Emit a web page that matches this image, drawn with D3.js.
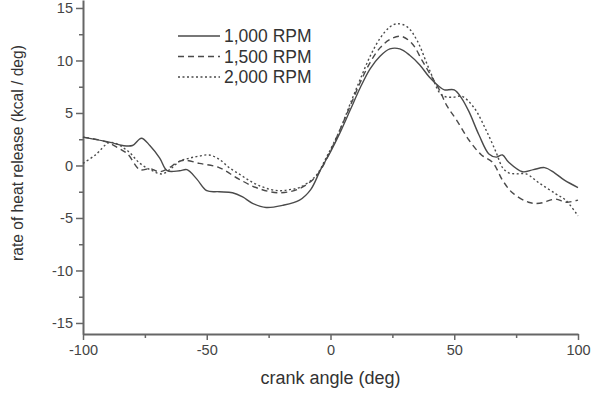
<!DOCTYPE html>
<html lang="en">
<head>
  <meta charset="UTF-8">
  <title>Rate of heat release</title>
  <script src="https://d3js.org/d3.v7.min.js"></script>
  <style>
    body {
      margin: 0;
      padding: 0;
      background: #fff;
      font-family: "Liberation Sans", Arial, sans-serif;
    }
    .axis path, .axis line {
      stroke: #666;
    }
    .axis path {
      stroke-width: 2;
    }
    .axis line {
      stroke-width: 1.5;
    }
    .axis text {
      fill: #444;
      font-size: 14.5px;
      font-family: "Liberation Sans", Arial, sans-serif;
    }
  </style>
</head>
<body>
  <div id="chart"></div>

  <script>
    // 1,000 RPM (solid)
    const angle1000 = [-100, -89, -84, -80, -76.4, -73, -69, -66, -61, -58, -54, -50, -45, -39.6, -35.5, -31.5, -26, -19.4, -12.5, -8, -4, 0, 4, 8, 12, 16, 20, 24, 28, 32, 36, 40, 44, 46, 50, 53, 56, 60, 64, 67, 69.5, 72, 77.6, 82, 86.5, 90.5, 94.5, 100];
    const heat1000 = [2.7, 2.2, 1.9, 1.9, 2.6, 1.9, 0.7, -0.5, -0.5, -0.4, -1.3, -2.4, -2.5, -2.6, -3.0, -3.6, -4.0, -3.8, -3.3, -2.3, -0.4, 1.3, 3.2, 5.3, 7.4, 9.2, 10.4, 11.1, 11.1, 10.5, 9.6, 8.4, 7.5, 7.2, 7.2, 6.4, 5.1, 2.9, 1.1, 0.8, 1.0, 0.3, -0.6, -0.4, -0.2, -0.7, -1.4, -2.1];

    // 1,500 RPM (dashed)
    const angle1500 = [-100, -95, -90, -86, -82, -77, -73, -69, -65, -62, -59, -53, -45, -37, -29, -20.6, -12.5, -5.7, 0, 4, 8, 12, 16, 20, 24, 28.5, 33, 37, 40, 44, 47, 51, 56, 61, 65.5, 69.5, 73.5, 80, 84.5, 91, 95, 100];
    const heat1500 = [2.7, 2.5, 2.2, 1.7, 1.1, -0.4, -0.3, -0.6, -0.2, 0.3, 0.5, 0.2, -0.2, -1.3, -2.2, -2.6, -2.2, -1.0, 1.4, 3.5, 5.7, 7.9, 9.8, 11.2, 12.0, 12.3, 11.6, 10.0, 8.8, 7.2, 5.7, 4.3, 2.4, 1.0, 0.3, -1.4, -2.6, -3.5, -3.6, -3.2, -3.5, -3.3];

    // 2,000 RPM (dotted)
    const angle2000 = [-100, -95, -89, -82, -77, -72, -68, -64, -61, -57, -53, -49, -45, -41, -37, -33, -29, -24, -20, -16.6, -12.5, -6, -1.6, 4, 8, 12, 16, 20, 24, 27, 31, 35, 40, 45, 49.5, 53, 58, 63, 67, 69.5, 72, 75, 79, 84.5, 91, 95, 100];
    const heat2000 = [0.2, 1.0, 2.2, 1.4, 0.2, -0.5, -0.8, -0.2, 0.4, 0.7, 0.9, 1.0, 0.6, -0.2, -0.8, -1.4, -1.9, -2.3, -2.4, -2.3, -2.1, -1.0, 0.8, 3.5, 5.9, 8.2, 10.4, 12.1, 13.2, 13.5, 13.2, 11.9, 9.1, 6.7, 6.5, 6.6, 5.5, 3.3, 1.2, -0.2, -0.7, -0.8, -0.8, -1.7, -2.7, -3.3, -4.8];

    const seriesNames = ["1,000 RPM", "1,500 RPM", "2,000 RPM"];
    const xTicks = [-100, -50, 0, 50, 100];
    const xMinorTicks = [-75, -25, 25, 75];
    const yTicks = [-15, -10, -5, 0, 5, 10, 15];
    const yMinorTicks = [-12.5, -7.5, -2.5, 2.5, 7.5, 12.5];

    const width = 592, height = 395;

    const svg = d3.select("#chart")
      .append("svg")
      .attr("width", width)
      .attr("height", height);

    const x = d3.scaleLinear()
      .domain([-100, 100])
      .range([83, 578]);

    const y = d3.scaleLinear()
      .domain([-16.05, 15.76])
      .range([334, 0]);

    const series = [
      { name: seriesNames[0], xs: angle1000, ys: heat1000, dash: null },
      { name: seriesNames[1], xs: angle1500, ys: heat1500, dash: "6,4" },
      { name: seriesNames[2], xs: angle2000, ys: heat2000, dash: "2,2.5" }
    ];

    // plain hyphen minus like the original plot
    const fmt = d => String(d);

    // minor ticks
    svg.append("g")
      .attr("class", "axis")
      .attr("transform", `translate(0,${y.range()[0]})`)
      .call(d3.axisBottom(x).tickValues(xMinorTicks).tickSize(4).tickFormat(""))
      .call(g => g.select(".domain").remove());

    svg.append("g")
      .attr("class", "axis")
      .attr("transform", `translate(${x.range()[0]},0)`)
      .call(d3.axisLeft(y).tickValues(yMinorTicks).tickSize(4).tickFormat(""))
      .call(g => g.select(".domain").remove());

    // major axes
    svg.append("g")
      .attr("class", "axis")
      .attr("transform", `translate(0,${y.range()[0]})`)
      .call(d3.axisBottom(x).tickValues(xTicks).tickSize(6).tickSizeOuter(0).tickPadding(5).tickFormat(fmt));

    svg.append("g")
      .attr("class", "axis")
      .attr("transform", `translate(${x.range()[0]},0)`)
      .call(d3.axisLeft(y).tickValues(yTicks).tickSize(7).tickSizeOuter(0).tickPadding(3).tickFormat(fmt));

    // lines
    const line = d3.line()
      .x(d => x(d[0]))
      .y(d => y(d[1]))
      .curve(d3.curveCatmullRom.alpha(0.5));

    svg.selectAll(".series")
      .data(series)
      .join("path")
      .attr("class", "series")
      .attr("fill", "none")
      .attr("stroke", "#4a4a4a")
      .attr("stroke-width", 1.4)
      .attr("stroke-dasharray", d => d.dash)
      .attr("d", d => line(d.xs.map((v, i) => [v, d.ys[i]])));

    // legend
    const legend = svg.append("g")
      .attr("transform", "translate(178,36)");

    const item = legend.selectAll("g")
      .data(series)
      .join("g")
      .attr("transform", (d, i) => `translate(0,${i * 20.5})`);

    item.append("line")
      .attr("x1", 0)
      .attr("x2", 42)
      .attr("stroke", "#4a4a4a")
      .attr("stroke-width", 1.4)
      .attr("stroke-dasharray", d => d.dash);

    item.append("text")
      .attr("x", 46)
      .attr("dy", "0.35em")
      .attr("fill", "#333")
      .style("font-size", "17.5px")
      .text(d => d.name);

    // axis titles
    svg.append("text")
      .attr("x", x(0))
      .attr("y", 384)
      .attr("text-anchor", "middle")
      .attr("fill", "#333")
      .style("font-size", "18px")
      .text("crank angle (deg)");

    svg.append("text")
      .attr("transform", "translate(23,153) rotate(-90)")
      .attr("text-anchor", "middle")
      .attr("fill", "#333")
      .style("font-size", "15.6px")
      .text("rate of heat release (kcal / deg)");
  </script>
</body>
</html>
